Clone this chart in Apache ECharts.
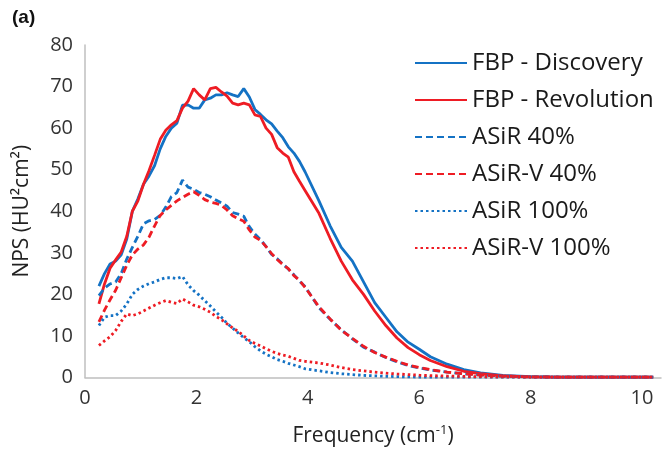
<!DOCTYPE html>
<html>
<head>
<meta charset="utf-8">
<script src="https://cdn.jsdelivr.net/npm/echarts@6/dist/echarts.min.js"></script>
<style>
  html, body { margin: 0; padding: 0; background: #fff; }
  #main { width: 664px; height: 452px; }
</style>
</head>
<body>
<div id="main"></div>
<script>
// frequency (cm-1), shared by all curves
var freq = [0.25, 0.35, 0.45, 0.55, 0.65, 0.75, 0.85, 0.95, 1.05, 1.15,
  1.25, 1.35, 1.45, 1.55, 1.65, 1.75, 1.85, 1.95, 2.05, 2.15,
  2.25, 2.35, 2.45, 2.55, 2.65, 2.75, 2.85, 2.95, 3.05, 3.15,
  3.25, 3.35, 3.45, 3.55, 3.65, 3.75, 3.85, 3.95, 4.2, 4.4,
  4.6, 4.8, 5.0, 5.2, 5.4, 5.6, 5.8, 6.0, 6.2, 6.5,
  6.8, 7.1, 7.5, 8.0, 8.5, 9.0, 9.5, 10.2];

var fbpDiscovery = [22, 25, 27.3, 28, 29.5, 33.3, 40, 43, 46.5, 48.5,
  51, 55, 58, 60, 61.2, 65.5, 65.6, 64.8, 64.8, 66.8,
  67.2, 68, 68, 68.5, 68, 67.6, 69.5, 67.5, 64.5, 63.3,
  62, 61, 59.3, 57.7, 55.5, 54, 52, 49.5, 42.5, 36.5,
  31.3, 28, 23, 18, 14.5, 11, 8.5, 6.8, 5, 3.2,
  1.9, 1.1, 0.5, 0.2, 0.1, 0.1, 0.1, 0.1];

var fbpRevolution = [17.7, 22.5, 26.3, 28.3, 30.2, 34, 40, 42.5, 46.5, 49.8,
  53.5, 57.3, 59.5, 60.8, 61.8, 64.8, 66.5, 69.5, 68, 66.8,
  69.5, 69.8, 68.7, 67.7, 66, 65.6, 66, 65.6, 63.2, 62.8,
  60, 58.5, 55.3, 54, 53, 49.5, 47.2, 45, 39.5, 33.5,
  28, 23.5, 20, 16, 12.5, 9.5, 7.2, 5.5, 4.1, 2.6,
  1.5, 0.9, 0.4, 0.15, 0.1, 0.1, 0.1, 0.1];

var asir40 = [19.7, 21.5, 22.5, 23, 25, 28.5, 31.3, 34, 37, 37.7,
  38, 39, 41, 43.5, 44.5, 47.5, 45.8, 45.3, 44.5, 44.1,
  43.5, 42.7, 42, 41.2, 39.7, 39.3, 38.8, 36.3, 34.5, 33.2,
  31.5, 29.6, 28.6, 27.3, 26.1, 24.7, 23.2, 21.9, 16.8, 14,
  11.5, 9.3, 7.3, 6.1, 4.8, 3.8, 2.9, 2.3, 1.8, 1.3,
  0.9, 0.6, 0.3, 0.15, 0.1, 0.1, 0.1, 0.1];

var asirV40 = [13.4, 16.2, 18.7, 21, 24, 27, 29.5, 30.9, 31.9, 33.8,
  36.5, 39, 40.3, 41.4, 42.5, 43.3, 44.1, 44.7, 43.8, 42.8,
  42.2, 41.9, 41.4, 40.3, 38.9, 38.2, 37.6, 35.5, 33.8, 33,
  31.5, 29.8, 28.4, 27.2, 26.2, 24.5, 23.4, 21.7, 17, 14.1,
  11.4, 9.4, 7.5, 6, 4.9, 3.9, 3, 2.4, 1.9, 1.3,
  0.9, 0.6, 0.35, 0.15, 0.1, 0.1, 0.1, 0.1];

var asir100 = [12.5, 14.5, 14.9, 14.9, 16, 17.7, 20, 21.2, 22, 22.6,
  23, 23.6, 24, 24, 23.8, 24.3, 22.3, 20.9, 19.8, 18.5,
  17.2, 15.8, 14.5, 13, 11.9, 10.7, 9.6, 8.6, 7.4, 6.4,
  5.6, 5, 4.3, 3.9, 3.4, 3, 2.6, 2.1, 1.6, 1.2,
  0.9, 0.7, 0.5, 0.4, 0.3, 0.2, 0.15, 0.1, 0.1, 0.1,
  0.1, 0.1, 0.1, 0.1, 0.1, 0.1, 0.1, 0.1];

var asirV100 = [7.7, 8.8, 9.8, 11.3, 13.5, 15.3, 14.9, 15.3, 16, 16.7,
  17.4, 18, 18.5, 18.1, 17.8, 18.9, 18.2, 17.4, 17, 16.4,
  15.7, 14.7, 13.9, 12.9, 11.9, 11.1, 10, 8.9, 8.2, 7.6,
  6.9, 6.3, 5.8, 5.4, 5.1, 4.6, 4.1, 3.9, 3.5, 3,
  2.4, 1.9, 1.6, 1.3, 1.05, 0.85, 0.7, 0.55, 0.45, 0.35,
  0.25, 0.2, 0.15, 0.1, 0.1, 0.1, 0.1, 0.1];

var seriesNames = ['FBP - Discovery', 'FBP - Revolution', 'ASiR 40%', 'ASiR-V 40%', 'ASiR 100%', 'ASiR-V 100%'];
var seriesValues = [fbpDiscovery, fbpRevolution, asir40, asirV40, asir100, asirV100];

var BLUE = '#1472C4';
var RED = '#EE1C24';
var FONT = 'Open Sans';

// colour and dash per curve
var looks = [
  { color: BLUE, type: 'solid' },
  { color: RED, type: 'solid' },
  { color: BLUE, type: [7, 4] },
  { color: RED, type: [7, 4] },
  { color: BLUE, type: [2.5, 3] },
  { color: RED, type: [2.5, 3] }
];

function pairs(vals) {
  return freq.map(function (f, i) { return [f, vals[i]]; });
}

var chart = echarts.init(document.getElementById('main'), null, { renderer: 'canvas' });

var option = {
  animation: false,
  backgroundColor: '#fff',
  textStyle: { fontFamily: FONT },
  grid: { left: 85, right: 1, top: 45, bottom: 73 },
  legend: {
    orient: 'vertical',
    left: 414,
    top: 51,
    padding: 0,
    itemWidth: 52,
    itemHeight: 14,
    itemGap: 13,
    itemStyle: { opacity: 0 },
    textStyle: { fontFamily: FONT, fontSize: 24, color: '#1a1a1a', lineHeight: 24 },
    data: seriesNames
  },
  graphic: [{
    type: 'text',
    left: 12,
    top: 8,
    style: { text: '(a)', font: 'bold 19px "Liberation Sans"', fill: '#111' }
  }],
  xAxis: {
    type: 'value',
    min: 0,
    max: 10.34,
    interval: 2,
    name: 'Frequency (cm{sup|-1})',
    nameLocation: 'middle',
    nameGap: 46,
    nameTextStyle: {
      fontFamily: FONT, fontSize: 21, color: '#222',
      rich: { sup: { fontSize: 13, verticalAlign: 'top', lineHeight: 26, fontFamily: FONT, color: '#222' } }
    },
    splitLine: { show: false },
    axisTick: { show: false },
    axisLine: { lineStyle: { color: '#BFBFBF', width: 1.5 } },
    axisLabel: {
      margin: 11, fontSize: 20, color: '#333', fontFamily: FONT,
      formatter: function (v) { return v % 2 === 0 ? String(v) : ''; }
    }
  },
  yAxis: {
    type: 'value',
    min: 0,
    max: 80,
    interval: 10,
    name: 'NPS (HU²cm²)',
    nameLocation: 'middle',
    nameRotate: 90,
    nameGap: 52,
    nameTextStyle: { fontFamily: FONT, fontSize: 21, color: '#222' },
    splitLine: { show: false },
    axisTick: { show: false },
    axisLine: { show: true, lineStyle: { color: '#BFBFBF', width: 1.5 } },
    axisLabel: { margin: 12, fontSize: 20, color: '#333', fontFamily: FONT }
  },
  series: seriesNames.map(function (name, i) {
    return {
      name: name,
      type: 'line',
      data: pairs(seriesValues[i]),
      showSymbol: false,
      symbol: 'none',
      color: looks[i].color,
      lineStyle: { color: looks[i].color, width: 2.8, type: looks[i].type },
      emphasis: { disabled: true }
    };
  })
};

chart.setOption(option);
</script>
</body>
</html>
